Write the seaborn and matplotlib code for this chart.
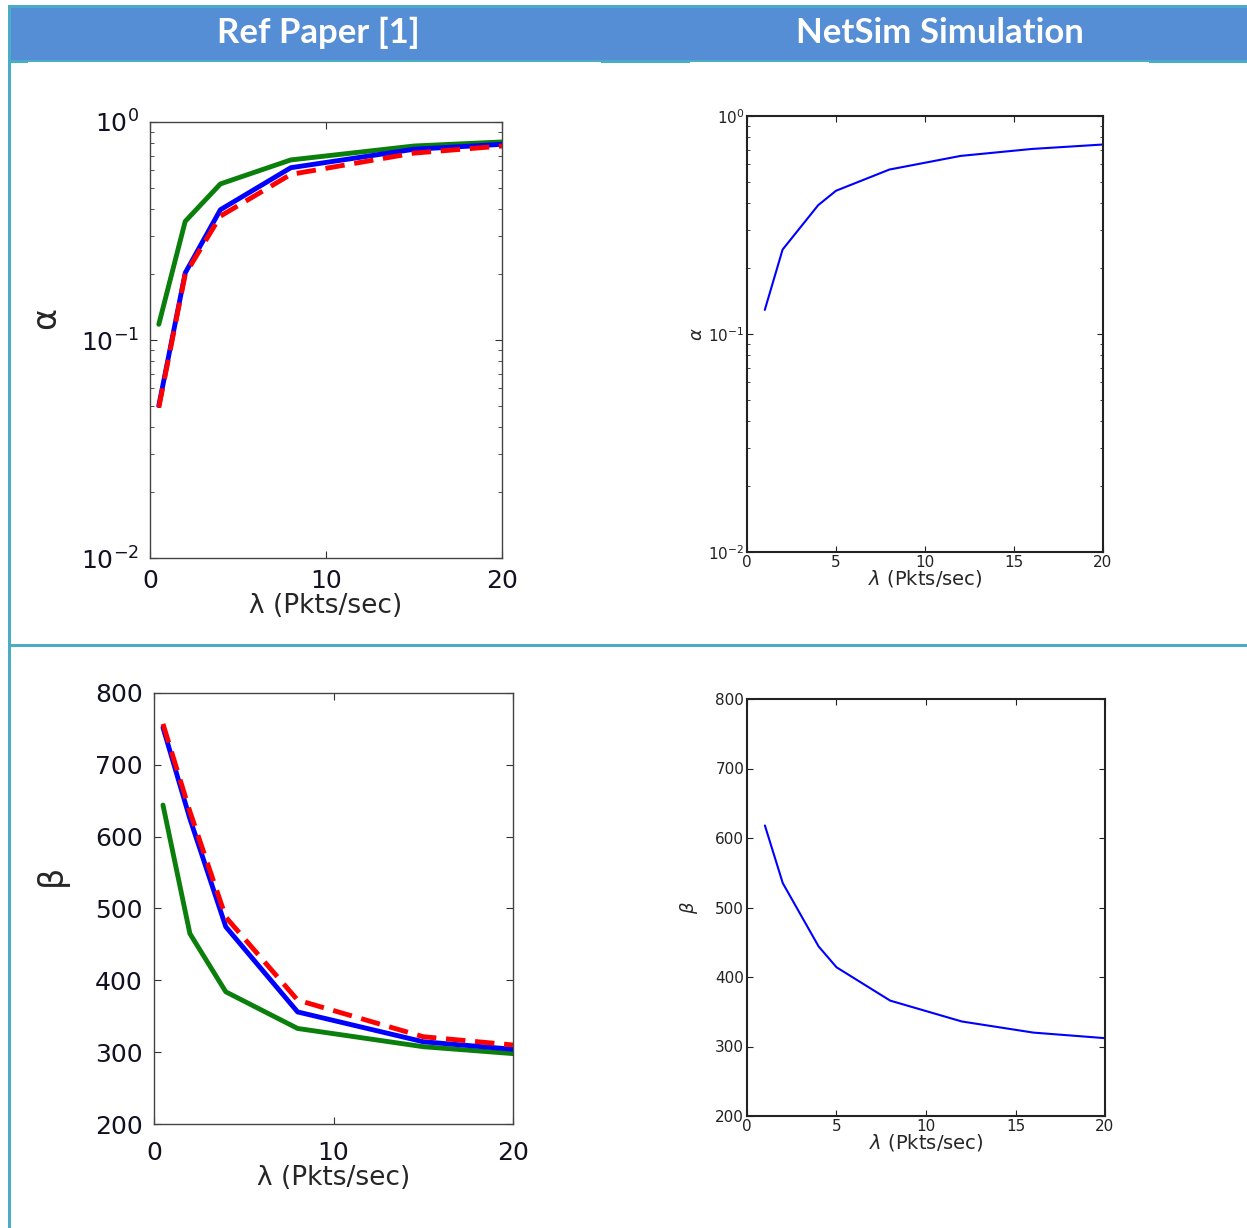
import matplotlib.pyplot as plt
import numpy as np
import pandas as pd
import seaborn as sns
from matplotlib.patches import Rectangle
from matplotlib.ticker import NullFormatter

# Data
lam_ref = [0.5, 2, 4, 8, 15, 20]
alpha_green = [0.118, 0.35, 0.52, 0.67, 0.776, 0.81]
alpha_blue = [0.050, 0.203, 0.396, 0.617, 0.75, 0.79]
alpha_red = [0.049, 0.20, 0.37, 0.575, 0.72, 0.776]

beta_green = [644, 465, 384, 333, 307.6, 298]
beta_blue = [752, 625, 474.5, 356, 314.5, 304]
beta_red = [757, 635, 488, 372.5, 321.5, 310]

lam_sim = [1, 2, 4, 5, 8, 12, 16, 20]
alpha_sim = [0.129, 0.244, 0.39, 0.454, 0.568, 0.656, 0.706, 0.74]
beta_sim = [618, 535, 444, 414, 366, 336, 320, 312]

headers = ['Ref Paper [1]', 'NetSim Simulation']

W, H = 1247, 1228
sns.set_style('white')
plt.rcParams['font.family'] = ['DejaVu Sans']

fig = plt.figure(figsize=(W / 100, H / 100), dpi=100)
fig.patch.set_facecolor('white')


def px_rect(x, y, w, h, color):
    fig.add_artist(Rectangle((x / W, 1 - (y + h) / H), w / W, h / H,
                             transform=fig.transFigure, facecolor=color,
                             edgecolor='none', zorder=0))


def px_axes(x0, y0, x1, y1):
    return fig.add_axes([x0 / W, 1 - y1 / H, (x1 - x0) / W, (y1 - y0) / H])


teal = '#4BACC6'
hdr_blue = '#558ED5'

# table frame / header
px_rect(8, 5, W - 8, 3, teal)
px_rect(8, 5, 3, H - 5, teal)
px_rect(11, 8, W - 11, 52, hdr_blue)
px_rect(11, 60, W - 11, 1.5, teal)
px_rect(8, 60, 20, 3, teal)
px_rect(601, 60, 89, 3, teal)
px_rect(1149, 60, W - 1149, 3, teal)
px_rect(11, 644, W - 11, 3, teal)

fig.text(318 / W, 1 - 33 / H, headers[0], color='white', fontsize=25,
         fontweight='bold', family='Lato', ha='center', va='center')
fig.text(940 / W, 1 - 33 / H, headers[1], color='white', fontsize=25,
         fontweight='bold', family='Lato', ha='center', va='center')

ref_green = '#0B7F0B'
ref_blue = '#0000FF'
ref_red = '#FF0000'


def style_ref(ax):
    for s in ax.spines.values():
        s.set_color('#444444')
        s.set_linewidth(1.0)
    ax.tick_params(which='both', direction='in', top=True, right=True,
                   bottom=True, left=True, color='#333333', labelsize=18,
                   labelcolor='#111122', pad=8)
    ax.tick_params(which='major', length=5)
    ax.tick_params(which='minor', length=3)


def style_sim(ax):
    for s in ax.spines.values():
        s.set_color('#222222')
        s.set_linewidth(1.5)
    ax.tick_params(which='both', direction='in', top=True, right=True,
                   bottom=True, left=True, color='#222222', labelsize=11,
                   labelcolor='#222222', pad=2)
    ax.tick_params(which='major', length=4)
    ax.tick_params(which='minor', length=2)


# ---- top left: alpha, reference paper ----
ax1 = px_axes(150, 122, 502, 558)
sns.lineplot(x=lam_ref, y=alpha_green, ax=ax1, color=ref_green, linewidth=3.5)
sns.lineplot(x=lam_ref, y=alpha_blue, ax=ax1, color=ref_blue, linewidth=3.5)
sns.lineplot(x=lam_ref, y=alpha_red, ax=ax1, color=ref_red, linewidth=3.5,
             linestyle=(0, (4, 2)))
ax1.set_yscale('log')
ax1.set_xlim(0, 20)
ax1.set_ylim(1e-2, 1)
ax1.set_xticks([0, 10, 20])
ax1.set_yticks([1e-2, 1e-1, 1])
ax1.set_yticklabels([r'$10^{-2}$', r'$10^{-1}$', r'$10^{0}$'])
ax1.yaxis.set_minor_formatter(NullFormatter())
style_ref(ax1)
ax1.set_xlabel('λ (Pkts/sec)', fontsize=19, labelpad=0)
ax1.set_ylabel('α', fontsize=24)
ax1.yaxis.set_label_coords(-0.25, 0.55)

# ---- top right: alpha, NetSim ----
ax2 = px_axes(747, 116, 1103, 552)
sns.lineplot(x=lam_sim, y=alpha_sim, ax=ax2, color='#0000FF', linewidth=1.5)
ax2.set_yscale('log')
ax2.set_xlim(0, 20)
ax2.set_ylim(1e-2, 1)
ax2.set_xticks([0, 5, 10, 15, 20])
ax2.set_yticks([1e-2, 1e-1, 1])
ax2.set_yticklabels([r'$10^{-2}$', r'$10^{-1}$', r'$10^{0}$'])
ax2.yaxis.set_minor_formatter(NullFormatter())
style_sim(ax2)
ax2.set_xlabel(r'$\lambda$ (Pkts/sec)', fontsize=14, labelpad=-1)
ax2.set_ylabel(r'$\alpha$', fontsize=13)
ax2.yaxis.set_label_coords(-0.115, 0.5)

# ---- bottom left: beta, reference paper ----
ax3 = px_axes(154, 693, 513, 1124)
sns.lineplot(x=lam_ref, y=beta_green, ax=ax3, color=ref_green, linewidth=3.5)
sns.lineplot(x=lam_ref, y=beta_blue, ax=ax3, color=ref_blue, linewidth=3.5)
sns.lineplot(x=lam_ref, y=beta_red, ax=ax3, color=ref_red, linewidth=3.5,
             linestyle=(0, (4, 2)))
ax3.set_xlim(0, 20)
ax3.set_ylim(200, 800)
ax3.set_xticks([0, 10, 20])
ax3.set_yticks(np.arange(200, 801, 100))
style_ref(ax3)
ax3.tick_params(axis='x', pad=12)
ax3.set_xlabel('λ (Pkts/sec)', fontsize=19, labelpad=0)
ax3.set_ylabel('β', fontsize=24)
ax3.yaxis.set_label_coords(-0.24, 0.578)

# ---- bottom right: beta, NetSim ----
ax4 = px_axes(747, 699, 1105, 1116)
sns.lineplot(x=lam_sim, y=beta_sim, ax=ax4, color='#0000FF', linewidth=1.5)
ax4.set_xlim(0, 20)
ax4.set_ylim(200, 800)
ax4.set_xticks([0, 5, 10, 15, 20])
ax4.set_yticks(np.arange(200, 801, 100))
style_sim(ax4)
ax4.set_xlabel(r'$\lambda$ (Pkts/sec)', fontsize=14, labelpad=-1)
ax4.set_ylabel(r'$\beta$', fontsize=13)
ax4.yaxis.set_label_coords(-0.13, 0.5)

fig.savefig('out.png', dpi=100)
